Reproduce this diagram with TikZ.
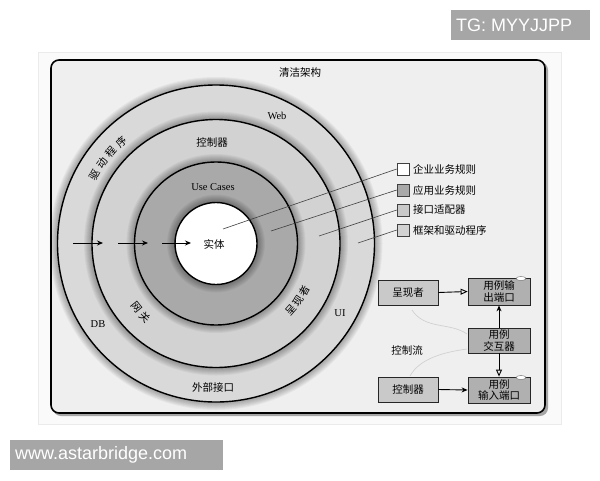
\documentclass[tikz,border=0pt]{standalone}
\usepackage{fontspec}
\setmainfont{Liberation Serif}
\newfontfamily\cjk{Noto Sans CJK SC}
\newfontfamily\wm{Liberation Sans}
\usetikzlibrary{arrows.meta,shapes.geometric}
\definecolor{ringA}{HTML}{D9D9D9}
\definecolor{ringB}{HTML}{D2D2D2}
\definecolor{ringC}{HTML}{A9A9A9}
\definecolor{boxL}{HTML}{C9C9C9}
\definecolor{boxD}{HTML}{B0B0B0}
\definecolor{frameBg}{HTML}{EFEFEF}
\begin{document}
\begin{tikzpicture}[x=1pt,y=-1pt,
  zh/.style={font=\cjk\fontsize{10.5}{12}\selectfont, inner sep=1pt},
  zharc/.style={font=\cjk\fontsize{10.5}{12}\selectfont, inner sep=0pt},
  lat/.style={font=\fontsize{10.5}{12}\selectfont, inner sep=1pt},
  ring/.style={circle, draw=black, line width=1.4pt, inner sep=0pt},
  halo/.style={fill=black, fill opacity=0.045, draw=none},
  legsq/.style={draw=black!75, line width=0.6pt, minimum size=12pt, inner sep=0pt},
  legline/.style={draw=black!75, line width=0.6pt},
  pbox/.style={draw=black!85, line width=0.8pt, minimum width=60pt, minimum height=25pt, inner sep=1pt, align=center, font=\cjk\fontsize{10.5}{11.5}\selectfont},
  flow/.style={-{Stealth[length=6pt,width=5pt]}, line width=0.9pt},
  openar/.style={-{Triangle[open,length=7pt,width=6pt]}, line width=0.9pt},
  wmark/.style={fill=black!35, text=white, inner sep=0pt, anchor=north west},
  wmtext/.style={font=\wm\fontsize{18}{20}\selectfont, text=white, anchor=west, inner sep=0pt}
]
\useasboundingbox (0,0) rectangle (600,480);
\fill[white] (0,0) rectangle (600,480);
% outer light frame
\draw[black!8, line width=0.8pt, fill=black!2] (38,52) rectangle (561,424);
% main frame shadow and frame
\fill[black!35, rounded corners=8pt] (53,62) rectangle (548,416);
\draw[fill=frameBg, rounded corners=8pt, line width=1.6pt] (51,60) rectangle (545,413);
\node[zh] (title) at (300,73) {清洁架构};

% circles
\coordinate (C) at (216,243.5);
\foreach \d in {8,7,...,1} \fill[halo] (C) circle[radius=158.5pt+\d pt];
\node[ring, fill=ringA, minimum size=317pt] (outer) at (C) {};
\foreach \d in {8,7,...,1} \fill[halo] (C) circle[radius=124pt+\d pt];
\node[ring, fill=ringB, minimum size=248pt] (ctrlring) at (C) {};
\foreach \d in {8,7,...,1} \fill[halo] (C) circle[radius=81.5pt+\d pt];
\node[ring, fill=ringC, minimum size=163pt] (ucring) at (C) {};
\foreach \d in {8,7,...,1} \fill[halo] (C) circle[radius=41pt+\d pt];
\node[ring, fill=white, minimum size=82pt] (entity) at (C) {};

% labels in rings
\node[lat] (web) at (277,116) {Web};
\node[zh] (ctrlL) at (212,143) {控制器};
\node[lat] (uc) at (213,187) {Use Cases};
\node[zh] (ent) at (214,244) {实体};
% text along arcs (angles measured on the page, counterclockwise)
\foreach \ch/\a [count=\i] in {驱/150.4, 动/144.6, 程/138.8, 序/133.0}
  \node[zharc, rotate=\a-90] (drv\i) at ([shift={(\a:139pt)}]C) {\ch};
\foreach \ch/\a [count=\i] in {网/219.0, 关/226.2}
  \node[zharc, rotate=\a+90] (gw\i) at ([shift={(\a:102pt)}]C) {\ch};
\foreach \ch/\a [count=\i] in {呈/-41.3, 现/-34.8, 者/-28.3}
  \node[zharc, rotate=\a+90] (pres\i) at ([shift={(\a:100pt)}]C) {\ch};
\node[lat] (db) at (98,324) {DB};
\node[lat] (ui) at (340,313) {UI};
\node[zh] (ext) at (213,387) {外部接口};

% arrows into center
\coordinate (a1s) at (73,243); \coordinate (a1e) at (103,243);
\coordinate (a2s) at (118,243); \coordinate (a2e) at (148,243);
\coordinate (a3s) at (162,243); \coordinate (a3e) at (191,243);
\draw[flow] (a1s) -- (a1e);
\draw[flow] (a2s) -- (a2e);
\draw[flow] (a3s) -- (a3e);

% legend
\node[legsq, fill=white] (sq1) at (403,169) {};
\node[legsq, fill=ringC] (sq2) at (403,190) {};
\node[legsq, fill=boxL] (sq3) at (403,210) {};
\node[legsq, fill=ringB] (sq4) at (403,230) {};
\node[zh, anchor=west] (t1) at (412,169) {企业业务规则};
\node[zh, anchor=west] (t2) at (412,190) {应用业务规则};
\node[zh, anchor=west] (t3) at (412,210) {接口适配器};
\node[zh, anchor=west] (t4) at (412,230) {框架和驱动程序};
\coordinate (p1) at (223,229);
\coordinate (p2) at (271,231);
\coordinate (p3) at (319,236);
\coordinate (p4) at (358,243);
\draw[legline] (sq1.west) -- (p1);
\draw[legline] (sq2.west) -- (p2);
\draw[legline] (sq3.west) -- (p3);
\draw[legline] (sq4.west) -- (p4);

% control flow boxes
\node[pbox, fill=boxL] (presB) at (408,292.5) {呈现者};
\node[pbox, fill=boxD, minimum width=62pt, minimum height=27pt] (outp) at (499,291.5) {用例输\\出端口};
\node[pbox, fill=boxD, minimum width=62pt] (inter) at (499,340.5) {用例\\交互器};
\node[pbox, fill=boxL] (ctrlB) at (408,389.5) {控制器};
\node[pbox, fill=boxD, minimum width=62pt, minimum height=26pt] (inp) at (499,390) {用例\\输入端口};
\node[zh] (cflow) at (407,350) {控制流};
% small interface icons
\fill[white, draw=black!60, line width=0.4pt] (521,278.5) ellipse[x radius=5pt, y radius=2pt];
\fill[white, draw=black!60, line width=0.4pt] (521,377.5) ellipse[x radius=5pt, y radius=2pt];

\draw[openar] (presB.east) -- (outp.west);
\draw[flow] (inter.north) -- (outp.south);
\draw[openar] (inter.south) -- (inp.north);
\draw[flow] (ctrlB.east) -- (inp.west);

% faint control-flow trace
\draw[black!18, line width=0.7pt] (412,310) .. controls (425,330) and (450,322) .. (467,334);
\draw[black!18, line width=0.7pt] (467,349) .. controls (445,352) and (420,358) .. (410,376);

% watermarks
\node[wmark, minimum width=139pt, minimum height=30pt] (wm1) at (451,10) {};
\node[wmtext] (wm1t) at (456,25) {TG: MYYJJPP};
\node[wmark, minimum width=213pt, minimum height=30pt] (wm2) at (10,440) {};
\node[wmtext] (wm2t) at (15,455) {www.astarbridge.com};
\end{tikzpicture}
\end{document}
